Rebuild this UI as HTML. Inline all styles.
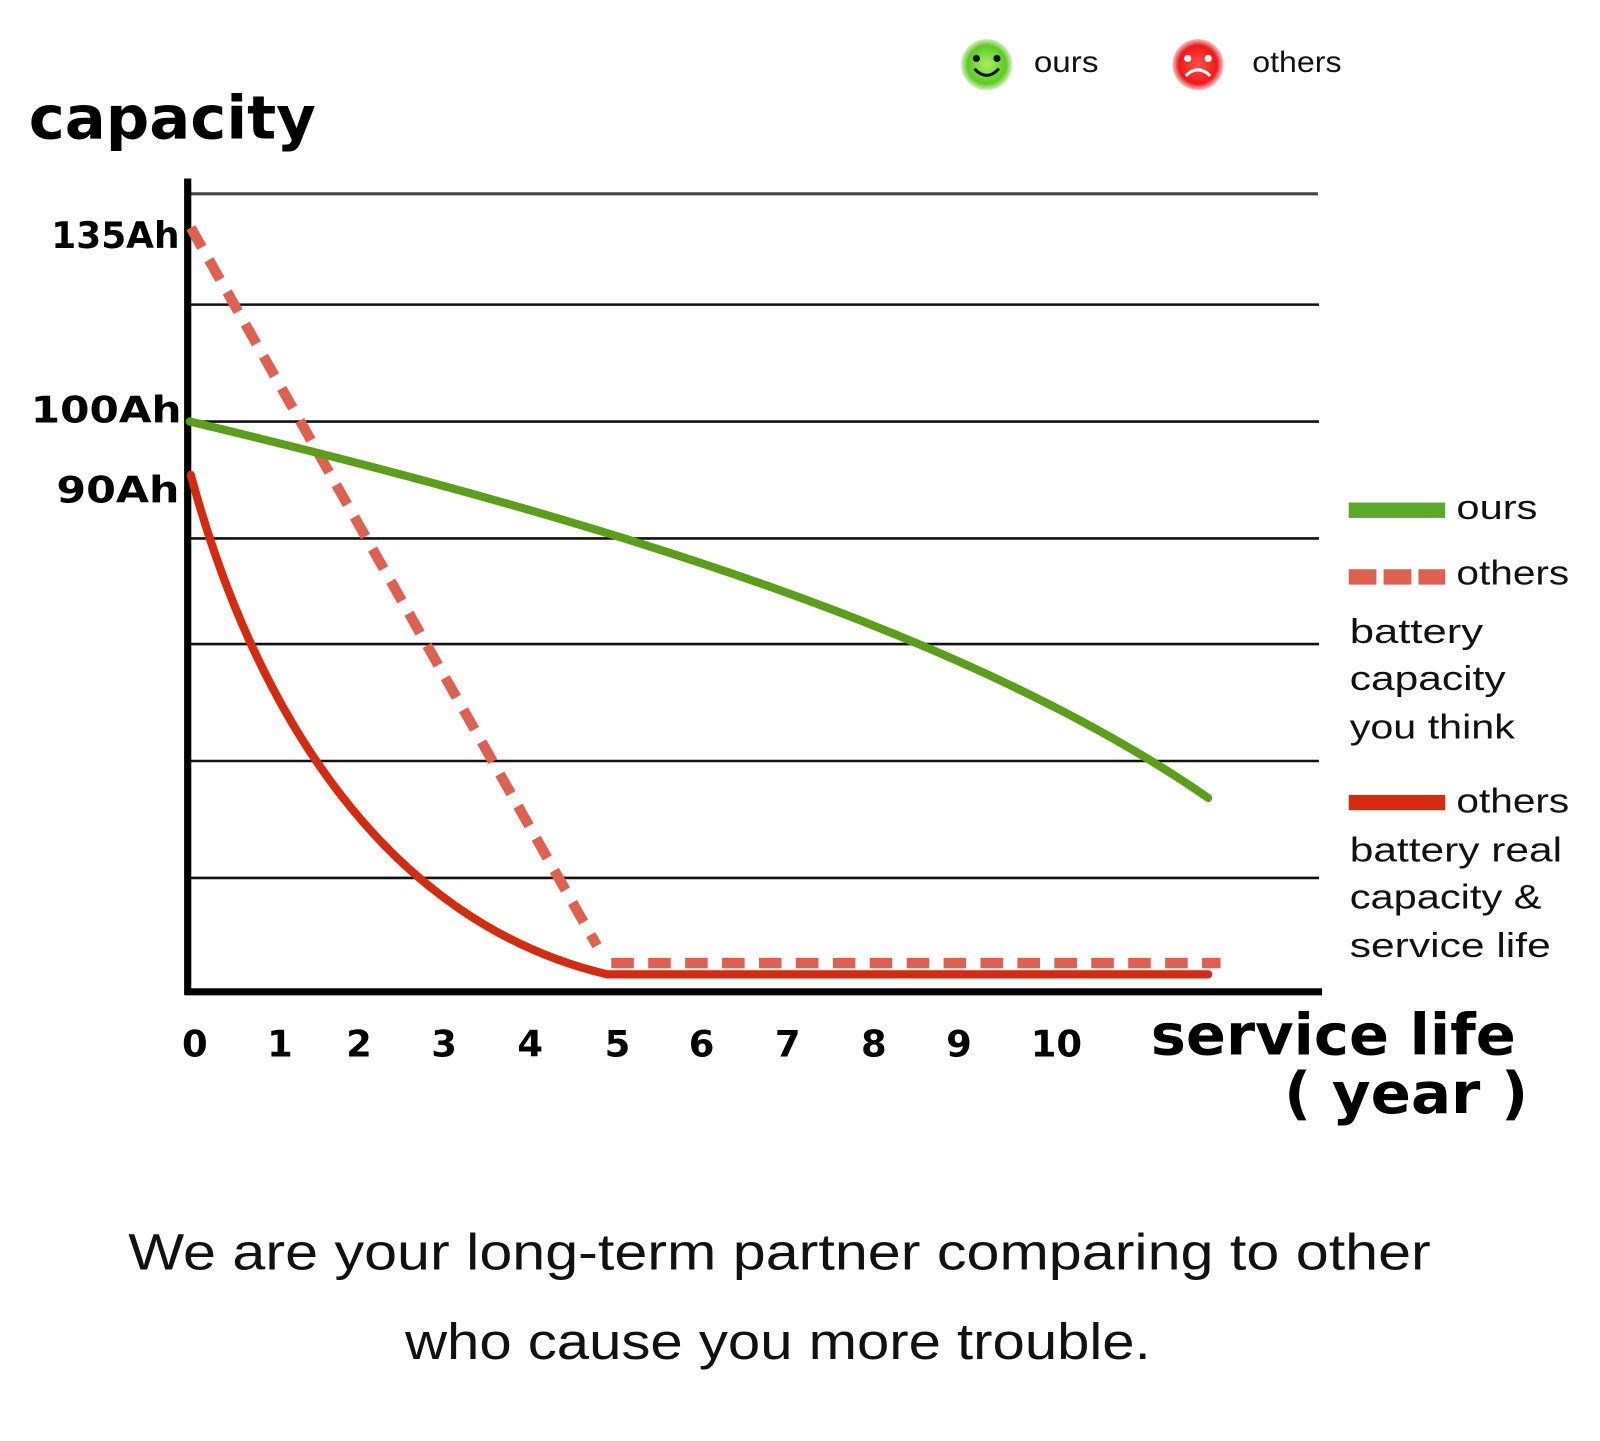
<!DOCTYPE html>
<html><head><meta charset="utf-8"><style>
html,body{margin:0;padding:0;background:#fff;}
svg{display:block;}
.b{font-family:"DejaVu Sans","Liberation Sans",sans-serif;font-weight:bold;fill:#000;}
.r{font-family:"Liberation Sans","DejaVu Sans",sans-serif;fill:#111;}
</style></head><body>
<svg width="1600" height="1441" viewBox="0 0 1560 1405" preserveAspectRatio="none" xmlns="http://www.w3.org/2000/svg">
<defs>
<radialGradient id="g1"><stop offset="0" stop-color="#a8f060"/><stop offset="0.75" stop-color="#5ccc20"/><stop offset="1" stop-color="#d8ecc8"/></radialGradient>
<radialGradient id="g2"><stop offset="0" stop-color="#ff5050"/><stop offset="0.75" stop-color="#ee1818"/><stop offset="1" stop-color="#f6c8c8"/></radialGradient>
</defs>
<text class="b" x="28" y="135" font-size="58" textLength="280" lengthAdjust="spacingAndGlyphs">capacity</text>
<!-- top legend -->
<circle cx="962" cy="63" r="25" fill="url(#g1)"/>
<circle cx="952" cy="57" r="3.5" fill="#111"/><circle cx="972" cy="57" r="3.5" fill="#111"/>
<path d="M950 67 Q962 80 974 67" stroke="#111" stroke-width="3" fill="none"/>
<text class="r" x="1008" y="70" font-size="29" textLength="63" lengthAdjust="spacingAndGlyphs">ours</text>
<circle cx="1168" cy="63" r="25" fill="url(#g2)"/>
<circle cx="1158" cy="57" r="3.5" fill="#fff"/><circle cx="1178" cy="57" r="3.5" fill="#fff"/>
<path d="M1156 74 Q1168 62 1180 74" stroke="#fff" stroke-width="3" fill="none"/>
<text class="r" x="1221" y="70" font-size="29" textLength="87" lengthAdjust="spacingAndGlyphs">others</text>
<!-- grid -->
<g stroke="#111" stroke-width="2.5">
<line x1="185" y1="189" x2="1285" y2="189" stroke="#444" stroke-width="3"/>
<line x1="185" y1="297" x2="1286" y2="297"/>
<line x1="185" y1="411" x2="1286" y2="411"/>
<line x1="185" y1="525" x2="1286" y2="525"/>
<line x1="185" y1="628" x2="1286" y2="628"/>
<line x1="185" y1="742" x2="1286" y2="742"/>
<line x1="185" y1="856" x2="1286" y2="856"/>
</g>
<line x1="183" y1="174" x2="183" y2="970" stroke="#000" stroke-width="7"/>
<line x1="180" y1="967" x2="1289" y2="967" stroke="#000" stroke-width="7"/>
<!-- y labels -->
<g class="b" font-size="36">
<text x="50" y="242" textLength="125" lengthAdjust="spacingAndGlyphs">135Ah</text>
<text x="30" y="412" textLength="147" lengthAdjust="spacingAndGlyphs">100Ah</text>
<text x="55" y="490" textLength="120" lengthAdjust="spacingAndGlyphs">90Ah</text>
</g>
<!-- x labels -->
<g class="b" font-size="36" text-anchor="middle">
<text x="190" y="1030">0</text><text x="273" y="1030">1</text><text x="350" y="1030">2</text>
<text x="433" y="1030">3</text><text x="517" y="1030">4</text><text x="602" y="1030">5</text>
<text x="684" y="1030">6</text><text x="768" y="1030">7</text><text x="852" y="1030">8</text>
<text x="935" y="1030">9</text><text x="1030" y="1030">10</text>
</g>
<text class="b" x="1122" y="1028" font-size="56" textLength="356" lengthAdjust="spacingAndGlyphs">service life</text>
<text class="b" x="1252" y="1085" font-size="56" textLength="238" lengthAdjust="spacingAndGlyphs">( year )</text>
<!-- series -->
<path d="M186 222 L582 922" stroke="#e06050" stroke-width="10" stroke-dasharray="22 14" fill="none"/>
<path d="M596 939 L1190 939" stroke="#e06050" stroke-width="10" stroke-dasharray="22 14" fill="none"/>
<path d="M186 463 C250 700 380 900 592 950 L1178 950" stroke="#d42a10" stroke-width="8" fill="none" stroke-linecap="round"/>
<path d="M185 411 C600 510 950 620 1178 778" stroke="#5a9e1a" stroke-width="8" fill="none" stroke-linecap="round"/>
<!-- right legend -->
<rect x="1315" y="490" width="94" height="15" fill="#5aaa28"/>
<text class="r" x="1420" y="506" font-size="33" textLength="79" lengthAdjust="spacingAndGlyphs">ours</text>
<g fill="#e06050"><rect x="1315" y="555" width="27" height="15"/><rect x="1349" y="555" width="27" height="15"/><rect x="1383" y="555" width="26" height="15"/></g>
<text class="r" x="1420" y="570" font-size="33" textLength="110" lengthAdjust="spacingAndGlyphs">others</text>
<text class="r" x="1316" y="627" font-size="33" textLength="130" lengthAdjust="spacingAndGlyphs">battery</text>
<text class="r" x="1316" y="673" font-size="33" textLength="152" lengthAdjust="spacingAndGlyphs">capacity</text>
<text class="r" x="1316" y="720" font-size="33" textLength="161" lengthAdjust="spacingAndGlyphs">you think</text>
<rect x="1315" y="775" width="94" height="15" fill="#d42a10"/>
<text class="r" x="1420" y="792" font-size="33" textLength="110" lengthAdjust="spacingAndGlyphs">others</text>
<text class="r" x="1316" y="840" font-size="33" textLength="207" lengthAdjust="spacingAndGlyphs">battery real</text>
<text class="r" x="1316" y="886" font-size="33" textLength="187" lengthAdjust="spacingAndGlyphs">capacity &amp;</text>
<text class="r" x="1316" y="933" font-size="33" textLength="196" lengthAdjust="spacingAndGlyphs">service life</text>
<!-- bottom -->
<text class="r" x="125" y="1238" font-size="50" fill="#222" textLength="1270" lengthAdjust="spacingAndGlyphs">We are your long-term partner comparing to other</text>
<text class="r" x="395" y="1325" font-size="50" fill="#222" textLength="727" lengthAdjust="spacingAndGlyphs">who cause you more trouble.</text>
</svg>
</body></html>
